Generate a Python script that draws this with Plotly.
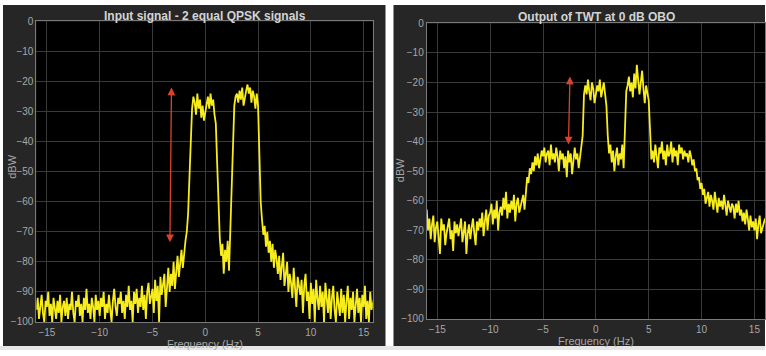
import numpy as np
import plotly.graph_objects as go

# Frequency grid shared by both spectra (Hz)
freq = [-16 + 0.125 * i for i in range(257)]

# Power spectral density of the two-carrier QPSK input (dBW)
input_psd = [
    -96, -92, -99, -94, -91, -97, -100, -93,
    -95, -90, -98, -94, -100, -92, -96, -99,
    -93, -97, -91, -100, -95, -93, -98, -92,
    -99, -94, -96, -90, -97, -100, -93, -95,
    -91, -98, -94, -100, -92, -96, -89, -97,
    -94, -99, -92, -95, -100, -91, -96, -93,
    -98, -92, -95, -90, -99, -94, -97, -91,
    -96, -100, -93, -89, -95, -98, -92, -94,
    -90, -97, -93, -99, -91, -95, -88, -96,
    -93, -100, -90, -94, -89, -97, -92, -95,
    -88, -96, -91, -99, -90, -87, -94, -92,
    -89, -97, -86, -93, -88, -100, -85, -91,
    -87, -84, -95, -86, -82, -90, -84, -88,
    -80, -89, -83, -78, -85, -79, -76, -82,
    -76, -73, -70, -64, -52, -38, -29, -25,
    -27, -31, -24, -29, -26, -32, -28, -33,
    -30, -27, -25, -29, -24, -28, -26, -31,
    -34, -47, -64, -72, -78, -74, -84, -76,
    -80, -73, -83, -70, -58, -38, -28, -25,
    -24, -27, -23, -26, -22, -28, -25, -23,
    -21, -24, -22, -27, -23, -25, -29, -24,
    -28, -43, -60, -66, -71, -68, -75, -70,
    -77, -73, -80, -74, -82, -76, -79, -84,
    -78, -86, -81, -77, -88, -83, -80, -90,
    -84, -87, -92, -82, -89, -95, -85, -88,
    -91, -86, -97, -88, -84, -93, -90, -99,
    -87, -94, -89, -100, -86, -92, -96, -88,
    -95, -90, -100, -87, -93, -97, -89, -99,
    -92, -88, -96, -100, -90, -94, -98, -89,
    -97, -91, -100, -93, -88, -99, -92, -96,
    -90, -100, -94, -89, -97, -92, -100, -91,
    -95, -88, -99, -93, -100, -90, -96, -94,
    -92,
]

# Power spectral density at the TWT output, 0 dB output back-off (dBW)
output_psd = [
    -63, -70, -66, -73, -68, -65, -74, -69,
    -67, -72, -78, -66, -70, -68, -75, -71,
    -69, -66, -73, -70, -77, -67, -71, -68,
    -72, -69, -66, -74, -70, -67, -78, -71,
    -68, -73, -69, -66, -71, -75, -67, -70,
    -66, -69, -64, -72, -67, -63, -70, -65,
    -64, -61, -68, -63, -66, -60, -70, -64,
    -62, -65, -59, -63, -57, -66, -61, -64,
    -60, -63, -58, -67, -61, -59, -64, -62,
    -60, -58, -63, -56, -52, -54, -49, -51,
    -47, -50, -45, -48, -44, -49, -46, -43,
    -45, -42, -47, -44, -43, -48, -41, -46,
    -44, -47, -42, -45, -50, -43, -46, -44,
    -49, -45, -52, -43, -47, -44, -51, -45,
    -42, -46, -44, -49, -45, -43, -38, -24,
    -21, -24, -19, -23, -26, -20, -22, -27,
    -24, -21, -23, -19, -25, -22, -20, -24,
    -28, -38, -44, -41, -47, -43, -50, -45,
    -42, -48, -44, -46, -41, -49, -37, -23,
    -21, -18, -23, -20, -25, -17, -22, -14,
    -19, -24, -20, -16, -22, -27, -21, -23,
    -26, -36, -46, -43, -47, -41, -45, -49,
    -42, -44, -40, -46, -43, -48, -41, -45,
    -44, -40, -47, -42, -45, -43, -48, -41,
    -44, -42, -46, -43, -45, -44, -47, -43,
    -45, -48, -46, -50, -49, -53, -52, -56,
    -54, -58, -56, -61, -59, -57, -62, -58,
    -60, -63, -57, -61, -64, -59, -62, -60,
    -63, -58, -61, -65, -60, -62, -64, -61,
    -62, -66, -61, -64, -60, -65, -63, -67,
    -64, -68, -63, -66, -70, -65, -69, -67,
    -70, -66, -73, -68, -65, -71, -69, -67,
    -66,
]

x_ticks = [-15, -10, -5, 0, 5, 10, 15]
y_ticks = [0, -10, -20, -30, -40, -50, -60, -70, -80, -90, -100]

# Level-difference markers: (f_top, dB_top, f_bottom, dB_bottom)
input_marker = (-3.2, -22, -3.35, -74)
output_marker = (-2.45, -18, -2.6, -41.5)

panel_titles = ["Input signal - 2 equal QPSK signals", "Output of TWT at 0 dB OBO"]

W, H = 766, 356
YELLOW = "#f7ec1c"
PANEL = "#262626"
GRID = "#3a3a3a"
AXLINE = "#7a7a7a"
TICKTXT = "#a6a6a6"
RED = "#d8432c"
FONT = "Liberation Sans"

# Axes boxes in window pixels: (left, right, top, bottom)
box1 = (36.4, 373.3, 17, 327)
box2 = (427.3, 766, 19, 324)


def px_x(p):
    return p / W


def px_y(p):
    return 1 - p / H


fig = go.Figure()
fig.add_trace(go.Scatter(x=freq, y=input_psd, mode="lines",
                         line=dict(color=YELLOW, width=1.8), xaxis="x", yaxis="y",
                         showlegend=False, hoverinfo="skip"))
fig.add_trace(go.Scatter(x=freq, y=output_psd, mode="lines",
                         line=dict(color=YELLOW, width=1.8), xaxis="x2", yaxis="y2",
                         showlegend=False, hoverinfo="skip"))

axis_common = dict(showgrid=True, gridcolor=GRID, gridwidth=1, zeroline=False,
                   showline=True, linecolor=AXLINE, linewidth=1, mirror=True,
                   ticks="", tickfont=dict(family=FONT, size=10, color=TICKTXT))

fig.update_layout(
    width=W, height=H,
    margin=dict(l=0, r=0, t=0, b=0),
    paper_bgcolor="white",
    plot_bgcolor="black",
    xaxis=dict(domain=[px_x(box1[0]), px_x(box1[1])], range=[-16, 15.87],
               tickvals=x_ticks, anchor="y", ticklabelstandoff=1, **axis_common),
    yaxis=dict(domain=[px_y(box1[3]), px_y(box1[2])], range=[-100, 0],
               tickvals=y_ticks, anchor="x", **axis_common),
    xaxis2=dict(domain=[px_x(box2[0]), 1.0], range=[-16, 16],
                tickvals=x_ticks, anchor="y2", ticklabelstandoff=1, **axis_common),
    yaxis2=dict(domain=[px_y(box2[3]), px_y(box2[2])], range=[-100, 0],
                tickvals=y_ticks, anchor="x2", **axis_common),
)

# Dark figure panels behind each axes, then black axes backgrounds
shapes = [
    dict(type="rect", xref="paper", yref="paper", x0=px_x(3), x1=px_x(386),
         y0=px_y(352), y1=1, fillcolor=PANEL, line=dict(width=0), layer="below"),
    dict(type="rect", xref="paper", yref="paper", x0=px_x(394), x1=1,
         y0=px_y(352), y1=1, fillcolor=PANEL, line=dict(width=0), layer="below"),
    dict(type="rect", xref="paper", yref="paper", x0=0, x1=1,
         y0=0, y1=px_y(352), fillcolor="#e6e6e6", line=dict(width=0), layer="below"),
]
for b in (box1, box2):
    shapes.append(dict(type="rect", xref="paper", yref="paper",
                       x0=px_x(b[0]), x1=px_x(b[1]), y0=px_y(b[3]), y1=px_y(b[2]),
                       fillcolor="black", line=dict(width=0), layer="below"))
fig.update_layout(shapes=shapes)

annotations = []
# Titles
for title, cx, cy in [(panel_titles[0], 205, 11), (panel_titles[1], 597, 12)]:
    annotations.append(dict(text="<b>" + title + "</b>", xref="paper", yref="paper",
                            x=px_x(cx), y=px_y(cy), xanchor="center", yanchor="middle",
                            showarrow=False,
                            font=dict(family=FONT, size=12, color="#d4d4d4")))
# Axis titles
for cx, cy in [(205, 349.5), (597, 347)]:
    annotations.append(dict(text="Frequency (Hz)", xref="paper", yref="paper",
                            x=px_x(cx), y=px_y(cy), xanchor="center", yanchor="middle",
                            showarrow=False, borderpad=0,
                            font=dict(family=FONT, size=11, color=TICKTXT)))
for cx, cy in [(12, 167), (400, 170)]:
    annotations.append(dict(text="dBW", xref="paper", yref="paper", textangle=-90,
                            x=px_x(cx), y=px_y(cy), xanchor="center", yanchor="middle",
                            showarrow=False,
                            font=dict(family=FONT, size=11, color=TICKTXT)))

# Double-headed level markers
for (xt, yt, xb, yb), xr, yr in [(input_marker, "x", "y"), (output_marker, "x2", "y2")]:
    annotations.append(dict(text="", x=xt, y=yt, ax=xb, ay=yb, xref=xr, yref=yr,
                            axref=xr, ayref=yr, showarrow=True, arrowside="end+start",
                            arrowhead=2, arrowsize=1.2, arrowwidth=1.3, arrowcolor=RED,
                            standoff=0, startstandoff=0))

fig.update_layout(annotations=annotations)

fig.write_html("out.html")
